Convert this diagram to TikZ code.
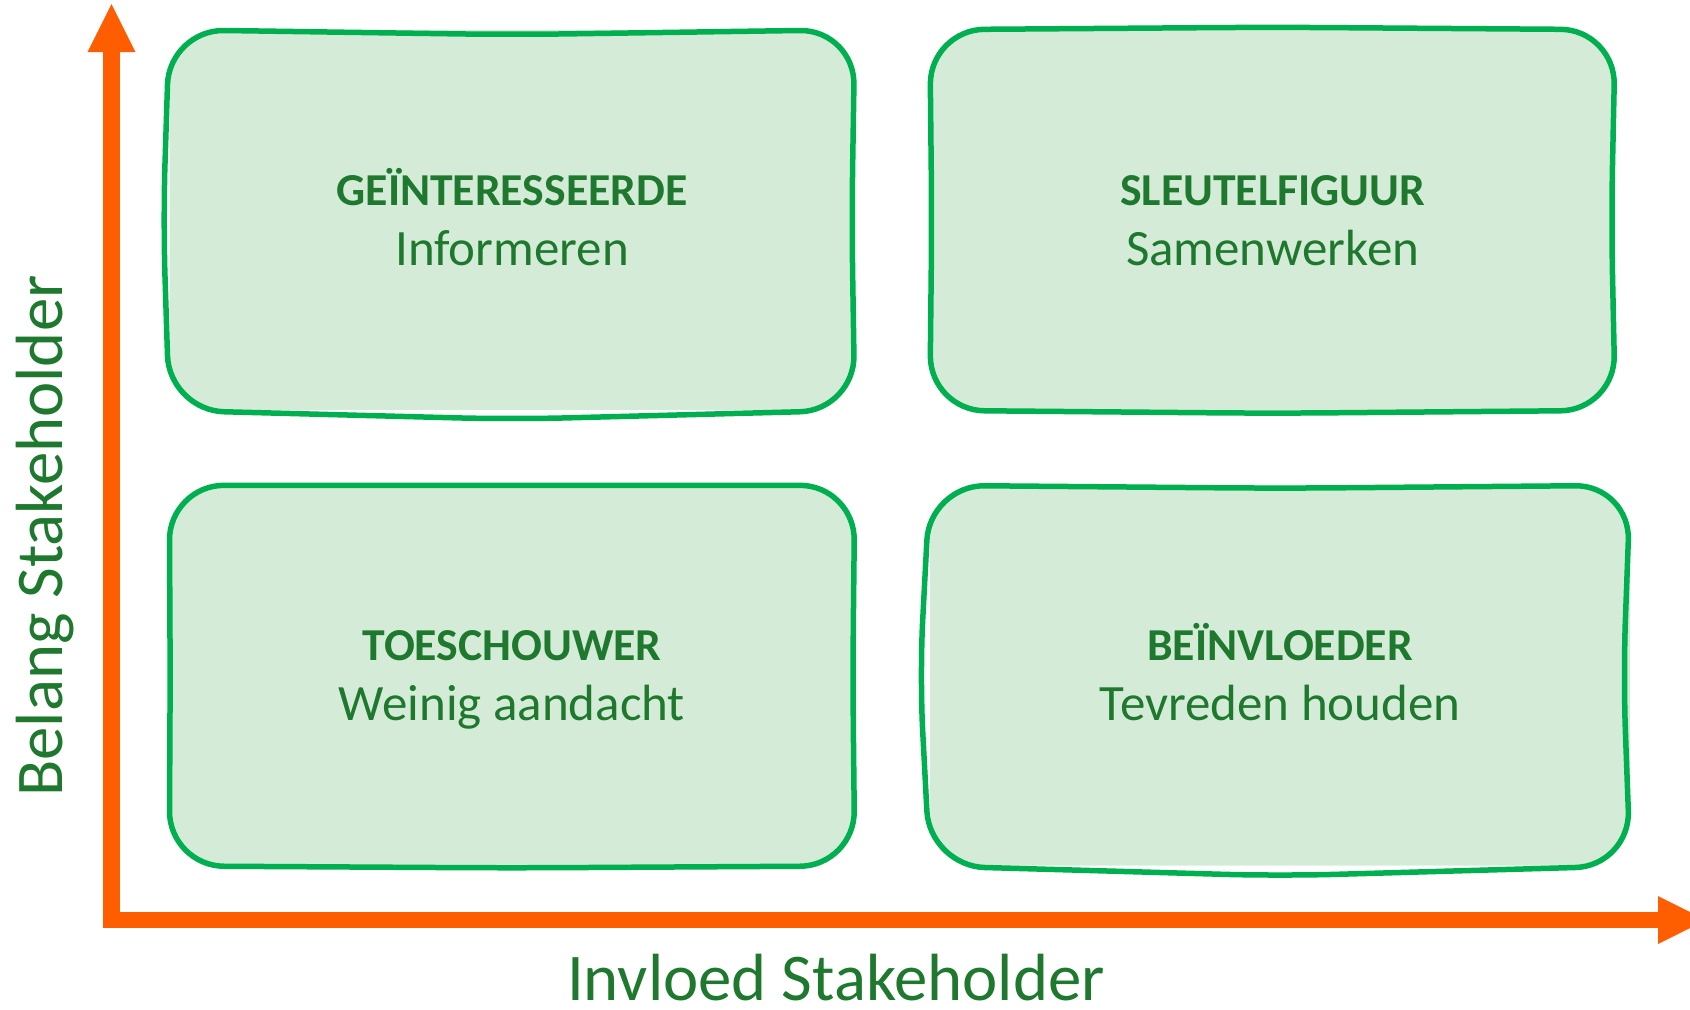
\documentclass[tikz,border=0pt]{standalone}
\usepackage{fontspec}
\setmainfont{Carlito}
\usetikzlibrary{arrows.meta, positioning}

\definecolor{axisorange}{RGB}{255,94,0}
\definecolor{boxgreen}{RGB}{0,176,80}
\definecolor{boxfill}{RGB}{212,236,215}
\definecolor{textgreen}{RGB}{30,120,45}

\newcommand{\quadtitle}[1]{{\fontsize{26}{34}\selectfont\bfseries #1}}
% hand drawn outline: node, left, right, top, bottom wobble
\newcommand{\sketchoutline}[5]{%
    \draw[quadline] (#1.north west) -- ([yshift=#4]#1.north) -- (#1.north east)
        -- ([xshift=#3]#1.east) -- (#1.south east) -- ([yshift=#5]#1.south)
        -- (#1.south west) -- ([xshift=#2]#1.west) -- cycle;}

\begin{document}
\begin{tikzpicture}[x=0.02cm, y=-0.02cm,
            node distance = 1.5cm,
            >={Triangle[length=0.96cm, width=0.96cm, line width=0pt]},
            quadrant/.style={fill=boxfill, rounded corners=1.1cm,
                minimum width=13.7cm, minimum height=7.6cm,
                inner sep=0pt, align=center, text=textgreen,
                text height=1.8cm, text depth=0pt,
                font=\fontsize{29}{34}\selectfont},
            quadline/.style={draw=boxgreen, line width=0.11cm, rounded corners=1.1cm},
            axis/.style={draw=axisorange, line width=0.33cm, <->},
            axislabel/.style={text=textgreen, inner sep=0pt,
                font=\fontsize{38}{44}\selectfont}]
    \useasboundingbox (0,0) rectangle (1690,1009);

    % Axes
    \coordinate (origin) at (111.5,920);
    \coordinate (ytip) at (111.5,4);
    \coordinate (xtip) at (1706,920);
    \draw[axis] (ytip) -- (origin) -- (xtip);

    % Quadrants
    \node (tl) [quadrant] at (512,220) {\quadtitle{GEÏNTERESSEERDE}\\Informeren};
    \node (tr) [quadrant, right = of tl] {\quadtitle{SLEUTELFIGUUR}\\Samenwerken};
    \node (bl) [quadrant, below = of tl] {\quadtitle{TOESCHOUWER}\\Weinig aandacht};
    \node (br) [quadrant, right = of bl, minimum width=14cm] {\quadtitle{BEÏNVLOEDER}\\Tevreden houden};

    \sketchoutline{tl}{-0.12cm}{-0.06cm}{-0.1cm}{-0.18cm}
    \sketchoutline{tr}{0.04cm}{-0.08cm}{0.05cm}{-0.06cm}
    \sketchoutline{bl}{0.02cm}{-0.04cm}{0cm}{-0.04cm}
    \sketchoutline{br}{-0.2cm}{-0.14cm}{-0.06cm}{-0.2cm}

    % Axis labels
    \node (ylabel) [axislabel, rotate=90, anchor=base] at (62,536) {Belang Stakeholder};
    \node (xlabel) [axislabel, anchor=base] at (836,1000) {Invloed Stakeholder};
\end{tikzpicture}
\end{document}
